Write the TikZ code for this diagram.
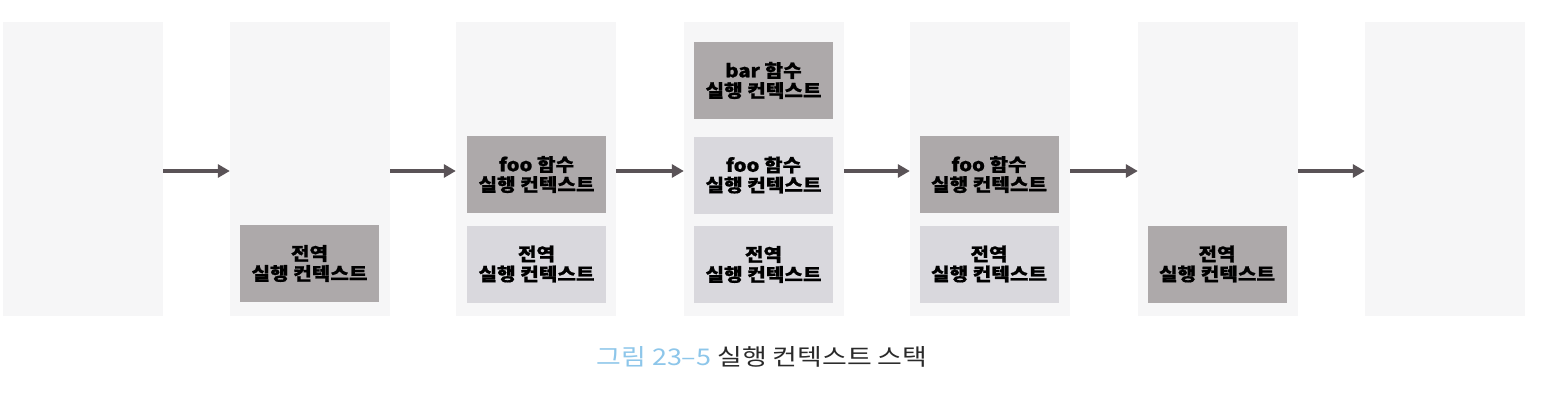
\documentclass[tikz,border=0pt]{standalone}
\usepackage{fontspec}
\setmainfont{Noto Sans CJK KR}
\newfontfamily\boxfont[FakeStretch=1.12,FakeBold=0.8]{Noto Sans CJK KR}
\newfontfamily\capfont[FakeStretch=1.17]{Noto Sans CJK KR}
\usetikzlibrary{arrows.meta}
\definecolor{panelc}{HTML}{F6F6F7}
\definecolor{darkbox}{HTML}{ADA9AA}
\definecolor{lightbox}{HTML}{D9D8DD}
\definecolor{arrc}{HTML}{5A5357}
\definecolor{capblue}{HTML}{8DC6EA}
\definecolor{capdark}{HTML}{2A2A2A}
\tikzset{
  panel/.style={fill=panelc, draw=none, minimum width=160pt, minimum height=294pt, inner sep=0pt},
  ctx/.style={draw=none, minimum width=139pt, minimum height=77pt, inner sep=0pt, align=center,
    font=\boxfont\fontsize{18}{20}\selectfont\bfseries, text=black},
  ctxdark/.style={ctx, fill=darkbox},
  ctxlight/.style={ctx, fill=lightbox},
  arr/.style={draw=arrc, line width=4.2pt, -{Triangle[length=12pt,width=13pt]}},
}
\begin{document}
\begin{tikzpicture}[x=1pt,y=-1pt]
\useasboundingbox (0,0) rectangle (1542,402);
\fill[white] (0,0) rectangle (1542,402);
% panels
\node[panel] (p1) at (83,169) {};
\node[panel] (p2) at (310,169) {};
\node[panel] (p3) at (536,169) {};
\node[panel] (p4) at (764,169) {};
\node[panel] (p5) at (990,169) {};
\node[panel] (p6) at (1218,169) {};
\node[panel] (p7) at (1445,169) {};
% column 2
\node[ctxdark] (g2) at (309.5,263.5) {전역\\실행 컨텍스트};
% column 3
\node[ctxdark] (f3) at (536.5,174.5) {foo 함수\\실행 컨텍스트};
\node[ctxlight] (g3) at (536.5,264) {전역\\실행 컨텍스트};
% column 4
\node[ctxdark] (b4) at (763.5,80.5) {bar 함수\\실행 컨텍스트};
\node[ctxlight] (f4) at (763.5,175) {foo 함수\\실행 컨텍스트};
\node[ctxlight] (g4) at (763.5,264.5) {전역\\실행 컨텍스트};
% column 5
\node[ctxdark] (f5) at (989,174.5) {foo 함수\\실행 컨텍스트};
\node[ctxlight] (g5) at (989,264) {전역\\실행 컨텍스트};
% column 6
\node[ctxdark] (g6) at (1217,264) {전역\\실행 컨텍스트};
% arrows
\foreach \a/\b in {p1/p2,p2/p3,p3/p4,p4/p5,p5/p6,p6/p7}
  \draw[arr] ([yshift=-2pt]\a.east) -- ([yshift=-2pt]\b.west);
% caption
\node[font=\capfont\fontsize{23}{26}\selectfont, inner sep=0pt] (cap) at (762,357)
  {\textcolor{capblue}{그림 23–5} \textcolor{capdark}{실행 컨텍스트 스택}};
\end{tikzpicture}
\end{document}
